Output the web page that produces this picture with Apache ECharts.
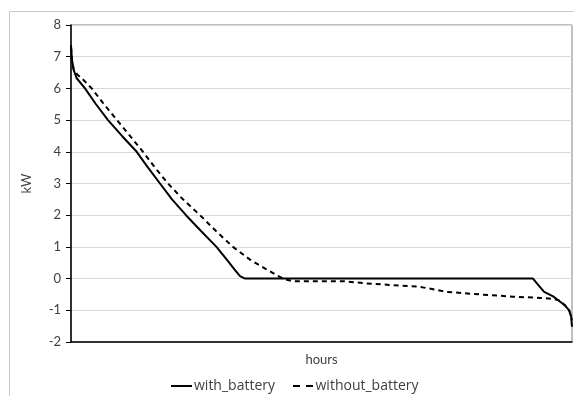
<!DOCTYPE html>
<html>
<head>
<meta charset="utf-8">
<script src="https://cdn.jsdelivr.net/npm/echarts@6/dist/echarts.min.js"></script>
<style>
  html, body { margin: 0; padding: 0; background: #fff; }
  #chart { width: 574px; height: 396px; }
</style>
</head>
<body>
<div id="chart"></div>
<script>
// duration curve, x = hour rank over a year
var withHours = [0, 17, 52, 100, 245, 437, 647, 892, 1149, 1347, 1556, 1766, 2011, 2273, 2544, 2745, 2868, 2955, 3043, 8078, 8168, 8273, 8430, 8553, 8640, 8710, 8745, 8760];
var withKw = [7.37, 6.9, 6.55, 6.32, 6.0, 5.5, 5.0, 4.5, 4.0, 3.5, 3.0, 2.5, 2.0, 1.5, 1.0, 0.55, 0.27, 0.08, 0, 0, -0.2, -0.42, -0.56, -0.73, -0.85, -1.0, -1.2, -1.52];

var withoutHours = [0, 17, 44, 105, 227, 362, 577, 804, 1032, 1259, 1469, 1696, 1958, 2256, 2535, 2832, 3130, 3410, 3707, 3864, 4757, 5142, 5579, 6104, 6576, 7153, 7731, 8203, 8430, 8553, 8640, 8710, 8760];
var withoutKw = [7.3, 6.9, 6.6, 6.45, 6.25, 6.0, 5.5, 5.0, 4.5, 4.0, 3.5, 3.0, 2.5, 2.0, 1.5, 1.0, 0.6, 0.3, 0.0, -0.08, -0.08, -0.15, -0.2, -0.26, -0.42, -0.5, -0.57, -0.61, -0.64, -0.7, -0.85, -1.0, -1.3];

var yMin = -2, yMax = 8, yStep = 1;

function zip(xs, ys) {
  return xs.map(function (x, i) { return [x, ys[i]]; });
}

var font = 'Lato, "Open Sans", sans-serif';
var legendFont = '"Open Sans", Lato, sans-serif';
var txt = '#404040';
var solidIcon = 'path://M0,0H21V2H0Z';
var dashIcon = 'path://M0,0H7V2H0Z M13,0H20V2H13Z';

var chart = echarts.init(document.getElementById('chart'), null, { renderer: 'canvas' });
chart.setOption({
  animation: false,
  backgroundColor: '#fff',
  textStyle: { fontFamily: font },
  graphic: [{
    type: 'rect',
    shape: { x: 9.5, y: 11.5, width: 600, height: 420 },
    style: { fill: 'none', stroke: '#c8c8c8', lineWidth: 1 },
    silent: true
  }],
  grid: {
    left: 71, top: 25, right: 2, bottom: 54,
    show: true, borderColor: '#808080', borderWidth: 1
  },
  xAxis: {
    type: 'value', min: 0, max: 8760,
    name: 'hours', nameLocation: 'middle', nameGap: 11,
    nameTextStyle: { fontSize: 13, color: txt, fontFamily: font },
    axisLine: { show: true, onZero: false, lineStyle: { color: '#000', width: 1.5 } },
    axisTick: { show: false }, axisLabel: { show: false },
    splitLine: { show: false }
  },
  yAxis: {
    type: 'value', min: yMin, max: yMax, interval: yStep,
    name: 'kW', nameLocation: 'middle', nameGap: 38,
    nameTextStyle: { fontSize: 13, color: txt, fontFamily: font },
    axisLine: { show: true, lineStyle: { color: '#000', width: 1.5 } },
    axisTick: { show: true, length: 5, lineStyle: { color: '#000' } },
    axisLabel: { fontSize: 13, color: txt, margin: 10, fontFamily: font },
    splitLine: { lineStyle: { color: '#d9d9d9', width: 1 } }
  },
  legend: {
    top: 379, left: 171, itemGap: 18, itemWidth: 21, itemHeight: 2, padding: 0,
    textStyle: { fontSize: 14, color: txt, fontFamily: legendFont, padding: [0, 0, 0, -3] },
    data: [
      { name: 'with_battery', icon: solidIcon },
      { name: 'without_battery', icon: dashIcon }
    ]
  },
  series: [{
    name: 'with_battery', type: 'line', showSymbol: false, symbol: 'none',
    data: zip(withHours, withKw),
    lineStyle: { color: '#000', width: 2 }, itemStyle: { color: '#000' }
  }, {
    name: 'without_battery', type: 'line', showSymbol: false, symbol: 'none',
    data: zip(withoutHours, withoutKw),
    lineStyle: { color: '#000', width: 2, type: [5, 4] }, itemStyle: { color: '#000' }
  }]
});
</script>
</body>
</html>
